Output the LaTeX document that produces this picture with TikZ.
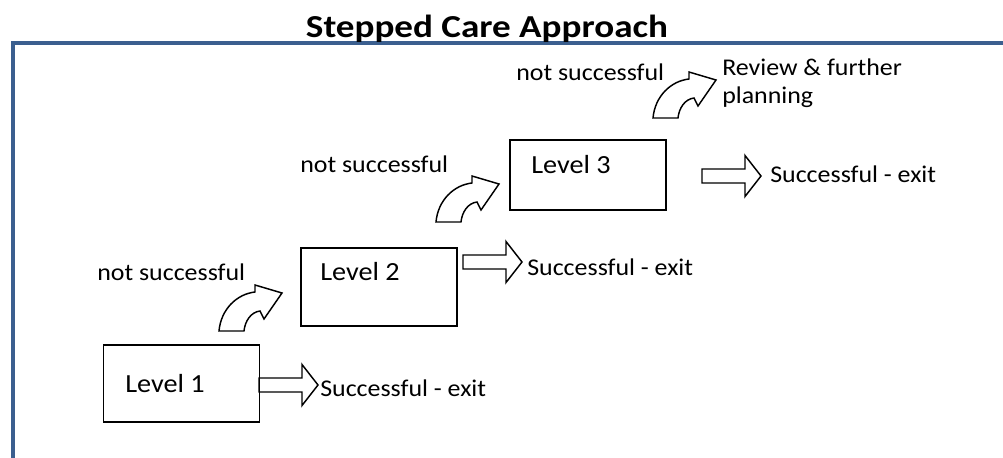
\documentclass[tikz,border=0pt]{standalone}
\usepackage{fontspec}
\setmainfont{Carlito}[FakeStretch=1.08]
\newfontfamily\headfont{Carlito}[FakeStretch=1.16]
\usetikzlibrary{positioning}
\definecolor{framebl}{HTML}{3B5F8F}
\tikzset{
  frameln/.style = { draw=framebl, line width=3.6pt },
  levelbox/.style = { draw, line width=1.1pt, inner sep=0pt, minimum width=117pt },
  txt/.style = { anchor=base west, inner sep=0pt, font=\fontsize{18}{22}\selectfont },
  lvltxt/.style = { txt, font=\fontsize{19.6}{24}\selectfont },
  ttl/.style = { anchor=base, inner sep=0pt, font=\headfont\bfseries\fontsize{24}{28}\selectfont },
  % hollow arrow pointing right, drawn from the middle of its tail
  pics/exitarrow/.style = { code = {
    \draw[line width=1.1pt, line join=miter]
      (0,-7) -- (43,-7) -- (43,-20.5) -- (59,0) -- (43,20.5) -- (43,7) -- (0,7) -- cycle;
  }},
  % hollow arrow bending up to the right, drawn from the left corner of its tail
  pics/uparrow/.style = { code = {
    \draw[line width=1.1pt, line join=miter]
      (0,0) .. controls (2,-22) and (18,-37) .. (36,-39) -- (36,-46) -- (63,-38)
      -- (45,-12) -- (41,-20) .. controls (32,-19) and (26,-10) .. (25,0) -- cycle;
  }}
}

\begin{document}
\begin{tikzpicture}[x=0.75pt, y=-0.75pt]
  \useasboundingbox (0,0) rectangle (1003,457);
  % frame and heading
  \draw[frameln] (1010,43) -- (13,43) -- (13,465);
  \node[ttl] (title) at (487,37) {Stepped Care Approach};

  % the three levels
  \node[levelbox, minimum height=57.75pt] (box1) at (181.5,383.5) {};
  \node[levelbox, minimum height=58.5pt] (box2) at (379,287) {};
  \node[levelbox, minimum height=52.5pt] (box3) at (588,175) {};
  \node[lvltxt] (lvl1) at (125,392) {Level 1};
  \node[lvltxt] (lvl2) at (320,280) {Level 2};
  \node[lvltxt] (lvl3) at (531,173) {Level 3};

  % exits
  \pic (ex1) at (259,385) {exitarrow};
  \pic (ex2) at (463,262) {exitarrow};
  \pic (ex3) at (702,176) {exitarrow};
  \node[txt] (ok1) at (320,396) {Successful - exit};
  \node[txt] (ok2) at (527,275) {Successful - exit};
  \node[txt] (ok3) at (770,182) {Successful - exit};

  % stepping up
  \pic (up1) at (219,331) {uparrow};
  \pic (up2) at (436,222) {uparrow};
  \pic (up3) at (653,118) {uparrow};
  \node[txt] (no1) at (97,280) {not successful};
  \node[txt] (no2) at (300,172) {not successful};
  \node[txt] (no3) at (516,80) {not successful};
  \node[txt] (rev1) at (722,75) {Review \& further};
  \node[txt] (rev2) at (722,103) {planning};
\end{tikzpicture}
\end{document}
